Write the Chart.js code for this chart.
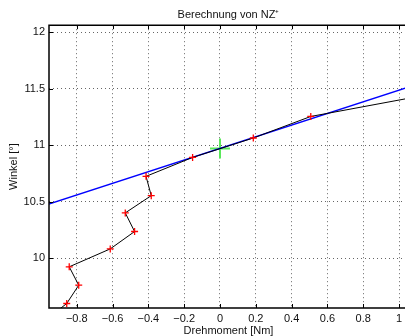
<!DOCTYPE html>
<html>
<head>
<meta charset="utf-8">
<script src="https://cdn.jsdelivr.net/npm/chart.js@4"></script>
<style>
  html, body { margin: 0; padding: 0; background: #fff; overflow: hidden; }
  #wrap { width: 408px; height: 336px; }
</style>
</head>
<body>
<div id="wrap"><canvas id="chart-1" width="408" height="336"></canvas></div>
<script>
  // measured points (torque in Nm, angle in deg)
  const torque = [-0.99, -0.856, -0.789, -0.842, -0.613, -0.477, -0.529, -0.384, -0.413, -0.153, 0.186, 0.507, 1.1];
  const angle = [9.43, 9.597, 9.759, 9.922, 10.081, 10.235, 10.400, 10.553, 10.724, 10.892, 11.064, 11.255, 11.43];
  // fitted straight line
  const fitTorque = [-0.96, 1.06];
  const fitAngle = [10.477, 11.519];
  // zero crossing NZ+
  const nzTorque = [0];
  const nzAngle = [10.97];

  const xTicks = [-0.8, -0.6, -0.4, -0.2, 0, 0.2, 0.4, 0.6, 0.8, 1];
  const yTicks = [10, 10.5, 11, 11.5, 12];

  const toXY = (xs, ys) => xs.map((v, i) => ({ x: v, y: ys[i] }));
  const fmt = v => (v < 0 ? '\u2212' + Math.abs(v) : String(v));
  const FONT = "'Liberation Sans', Arial, sans-serif";

  // no label overhang padding, chart area is fixed by hand
  const noPad = s => { s.paddingLeft = 0; s.paddingRight = 0; s.paddingTop = 0; s.paddingBottom = 0; };

  // matlab style frame with inward tick marks
  const frame = {
    id: 'frame',
    afterDatasetsDraw(chart) {
      const { ctx, chartArea: a, scales: { x, y } } = chart;
      ctx.save();
      ctx.strokeStyle = '#000';
      ctx.lineWidth = 1;
      ctx.beginPath();
      xTicks.forEach(v => {
        const px = Math.round(x.getPixelForValue(v)) + 0.5;
        ctx.moveTo(px, a.bottom); ctx.lineTo(px, a.bottom - 4);
        ctx.moveTo(px, a.top); ctx.lineTo(px, a.top + 4);
      });
      yTicks.forEach(v => {
        const py = Math.round(y.getPixelForValue(v)) + 0.5;
        ctx.moveTo(a.left, py); ctx.lineTo(a.left + 4, py);
      });
      ctx.stroke();
      ctx.lineWidth = 1.5;
      ctx.beginPath();
      ctx.moveTo(a.right, a.top);
      ctx.lineTo(a.left, a.top);
      ctx.lineTo(a.left, a.bottom);
      ctx.lineTo(a.right, a.bottom);
      ctx.stroke();
      ctx.restore();
    }
  };

  new Chart(document.getElementById('chart-1'), {
    type: 'scatter',
    data: {
      datasets: [{
        label: 'Messung',
        data: toXY(torque, angle),
        showLine: true,
        borderColor: '#000',
        borderWidth: 1,
        pointStyle: 'cross',
        pointRadius: 3.5,
        pointBorderColor: '#ff0000',
        pointBorderWidth: 1.3
      }, {
        label: 'Ausgleichsgerade',
        data: toXY(fitTorque, fitAngle),
        showLine: true,
        borderColor: '#0000ff',
        borderWidth: 1.5,
        pointRadius: 0
      }, {
        label: 'NZ+',
        data: toXY(nzTorque, nzAngle),
        showLine: false,
        pointStyle: 'cross',
        pointRadius: 10,
        pointBorderColor: '#5be85b',
        pointBorderWidth: 2
      }]
    },
    options: {
      responsive: false,
      animation: false,
      events: [],
      layout: { padding: 0, autoPadding: false },
      plugins: {
        legend: { display: false },
        tooltip: { enabled: false },
        title: {
          display: true,
          text: 'Berechnung von NZ\u207A',
          fullSize: false,
          color: '#111',
          font: { family: FONT, size: 11, weight: 'normal' },
          padding: { top: 8, bottom: 4 }
        }
      },
      scales: {
        x: {
          type: 'linear',
          min: -0.955,
          max: 1.05,
          afterFit: s => { s.height = 28; noPad(s); },
          afterBuildTicks: s => { s.ticks = xTicks.map(v => ({ value: v })); },
          ticks: {
            padding: 4,
            color: '#111',
            font: { family: FONT, size: 11 },
            callback: v => fmt(v)
          },
          grid: { color: 'rgba(0,0,0,0.6)', lineWidth: 1, drawTicks: false },
          border: { display: false, dash: [1, 3] },
          title: {
            display: true,
            text: 'Drehmoment [Nm]',
            color: '#111',
            font: { family: FONT, size: 11, lineHeight: 1 },
            padding: { top: 0, bottom: 0 }
          }
        },
        y: {
          type: 'linear',
          min: 9.557,
          max: 12.064,
          afterFit: s => { s.width = 49; noPad(s); },
          afterBuildTicks: s => { s.ticks = yTicks.map(v => ({ value: v })); },
          ticks: {
            padding: 4,
            color: '#111',
            font: { family: FONT, size: 11 },
            callback: v => fmt(v)
          },
          grid: { color: 'rgba(0,0,0,0.6)', lineWidth: 1, drawTicks: false },
          border: { display: false, dash: [1, 3] },
          title: {
            display: true,
            text: 'Winkel [°]',
            color: '#111',
            font: { family: FONT, size: 11 },
            padding: { top: 7, bottom: 0 }
          }
        }
      }
    },
    plugins: [frame]
  });
</script>
</body>
</html>
